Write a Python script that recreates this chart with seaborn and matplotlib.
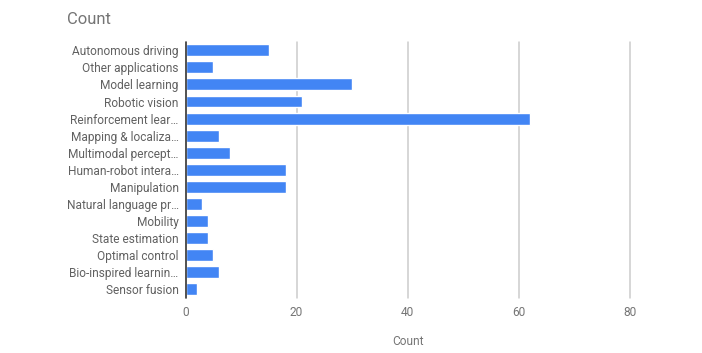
import matplotlib
matplotlib.use("Agg")
import matplotlib.pyplot as plt
import seaborn as sns
import pandas as pd

categories = [
    "Autonomous driving", "Other applications", "Model learning", "Robotic vision",
    "Reinforcement lear…", "Mapping & localiza…", "Multimodal percept…",
    "Human-robot intera…", "Manipulation", "Natural language pr…", "Mobility",
    "State estimation", "Optimal control", "Bio-inspired learnin…", "Sensor fusion",
]
counts = [15, 5, 30, 21, 62, 6, 8, 18, 18, 3, 4, 4, 5, 6, 2]
x_ticks = [0, 20, 40, 60, 80]

df = pd.DataFrame({"Category": categories, "Count": counts})

sns.set_theme(style="white")
plt.rcParams["font.family"] = ["Roboto", "DejaVu Sans"]

fig = plt.figure(figsize=(7.02, 3.53), dpi=100)
ax = fig.add_axes([185.5 / 702, 1 - 298 / 353, (630 - 185.5) / 702, 256.3 / 353])

sns.barplot(data=df, x="Count", y="Category", orient="h", color="#4285F4",
            saturation=1, width=0.7, ax=ax)

ax.set_xlim(0, 80)
ax.set_ylim(len(categories) - 0.5, -0.5)
ax.set_xticks(x_ticks)
ax.set_xticklabels([str(t) for t in x_ticks])
for t in x_ticks[1:]:
    ax.axvline(t, color="#cccccc", lw=1.1, zorder=0, clip_on=False)
ax.axvline(0, color="#333333", lw=1.2, zorder=3, clip_on=False)

for s in ax.spines.values():
    s.set_visible(False)
ax.tick_params(axis="both", length=0, labelsize=8.6, colors="#757575")
ax.tick_params(axis="x", pad=6)
ax.tick_params(axis="y", pad=5)
for lbl in ax.get_yticklabels():
    lbl.set_color("#616161")

ax.set_ylabel("")
ax.set_xlabel("Count", fontsize=8.6, color="#757575", labelpad=11)
fig.text(67 / 702, 1 - 20 / 353, "Count", fontsize=12, color="#757575",
         ha="left", va="center")

fig.savefig("out.png", dpi=100, facecolor="white")
